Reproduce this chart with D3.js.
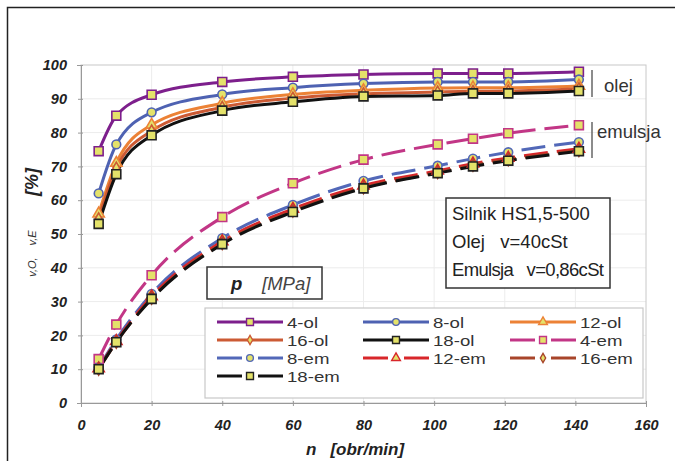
<!DOCTYPE html>
<html><head><meta charset="utf-8">
<script src="https://cdn.jsdelivr.net/npm/d3@7"></script>
<style>body{margin:0;background:#fff}svg{display:block;font-family:"Liberation Sans",Arial,sans-serif}</style>
</head><body><svg id="c" width="675" height="461"></svg>
<script>
const rpm = [5,10,20,40,60,80,101,111,121,141];
const seriesNames = ["4-ol","8-ol","12-ol","16-ol","18-ol","4-em","8-em","12-em","16-em","18-em"];
const ol4  = [74.5,85,91.2,95,96.5,97.2,97.5,97.5,97.5,98];
const ol8  = [62,76.5,86,91.3,93.3,94.5,95,95,95,95.7];
const ol12 = [56,71,82.3,88.7,91.3,92.5,93.2,93.3,93.3,93.8];
const ol16 = [54.5,69.5,80.5,87.5,90.2,91.5,92,92.2,92.3,93];
const ol18 = [53,67.7,79.2,86.5,89.1,90.7,91,91.6,91.6,92.3];
const em4  = [13,23.2,37.8,55,65,72,76.5,78.2,79.8,82.2];
const em8  = [10.5,18.8,32.3,48.8,58.6,65.7,70.2,72.3,74.2,77.2];
const em12 = [10.2,18.3,31.5,47.8,57.4,64.3,68.7,70.8,72.5,75.2];
const em16 = [10,18,31,47.2,56.8,63.7,68.2,70.3,72,74.7];
const em18 = [10,18,30.8,47,56.5,63.5,68,70,71.7,74.5];
const xTicks = [0,20,40,60,80,100,120,140,160];
const yTicks = [0,10,20,30,40,50,60,70,80,90,100];

const values = [ol4,ol8,ol12,ol16,ol18,em4,em8,em12,em16,em18];
const colors = ["#7d1f8c","#4e62b2","#ec8236","#cc5a34","#111111","#c23686","#5268b8","#d8262a","#a8452a","#111111"];
const shapes = [d3.symbolSquare,d3.symbolCircle,d3.symbolTriangle,d3.symbolDiamond,d3.symbolSquare];
const markerSize = [80,60,55,40,80];
const mfill = "#e4e26a";

const svg = d3.select("#c");
const x = d3.scaleLinear().domain([0,160]).range([81,646]);
const y = d3.scaleLinear().domain([0,100]).range([403,65]);

svg.append("path").attr("d","M7.5,461 V7.5 H675").attr("fill","none").attr("stroke","#222").attr("stroke-width",1.5);

const g = svg.append("g");
g.selectAll(".gx").data(xTicks.slice(1,-1)).join("line").attr("x1",d=>x(d)).attr("x2",d=>x(d)).attr("y1",y(0)).attr("y2",y(100)).attr("stroke","#ececec");
g.selectAll(".gy").data(yTicks.slice(1,-1)).join("line").attr("y1",d=>y(d)).attr("y2",d=>y(d)).attr("x1",x(0)).attr("x2",x(160)).attr("stroke","#ececec");
g.append("rect").attr("x",x(0)).attr("y",y(100)).attr("width",x(160)-x(0)).attr("height",y(0)-y(100)).attr("fill","none").attr("stroke","#c8c8c8");

const xa = svg.append("g").attr("transform",`translate(0,${y(0)})`).call(d3.axisBottom(x).tickValues(xTicks).tickSize(4).tickPadding(13));
xa.select(".domain").attr("stroke","#999");
xa.selectAll(".tick line").attr("stroke","#999").attr("y1",-2).attr("y2",3);
xa.selectAll("text").attr("font-size",14.5).attr("font-weight","bold").attr("font-style","italic").attr("fill","#222").attr("font-family","Liberation Sans, Arial");
const ya = svg.append("g").attr("transform",`translate(${x(0)},0)`).call(d3.axisLeft(y).tickValues(yTicks).tickSize(4).tickPadding(10));
ya.select(".domain").attr("stroke","#999");
ya.selectAll(".tick line").attr("stroke","#999").attr("x1",2).attr("x2",-3);
ya.selectAll("text").attr("font-size",14.5).attr("font-weight","bold").attr("font-style","italic").attr("fill","#222").attr("font-family","Liberation Sans, Arial");

const xt = svg.append("text").attr("x",306).attr("y",455).attr("font-size",17).attr("font-weight","bold").attr("font-style","italic").attr("fill","#222");
xt.append("tspan").text("n");
xt.append("tspan").attr("dx",14).text("[obr/min]");
const yt = svg.append("g").attr("transform","translate(36,225) rotate(-90)");
yt.append("text").attr("x",-42).attr("y",0).attr("text-anchor","middle").attr("font-size",11).attr("font-style","italic").attr("fill","#333").text("v,O,");
yt.append("text").attr("x",-13).attr("y",0).attr("text-anchor","middle").attr("font-size",11).attr("font-style","italic").attr("fill","#333").text("v,E");
yt.append("text").attr("x",43).attr("y",2).attr("text-anchor","middle").attr("font-size",18).attr("font-weight","bold").attr("font-style","italic").attr("fill","#222").text("[%]");

const line = d3.line().x((d,i)=>x(rpm[i])).y(d=>y(d)).curve(d3.curveMonotoneX);
const plot = svg.append("g");
const order = [5,6,7,8,9,0,1,2,3,4];
order.forEach(k=>{
  plot.append("path").datum(values[k]).attr("d",line).attr("fill","none").attr("stroke",colors[k]).attr("stroke-width",3)
    .attr("stroke-dasharray",k>=5?"24,9":null).attr("stroke-linecap","butt");
});
order.forEach(k=>{
  const s = k%5;
  plot.selectAll(null).data(values[k]).join("path")
    .attr("transform",(d,i)=>`translate(${x(rpm[i])},${y(d)})`)
    .attr("d",d3.symbol().type(shapes[s]).size(markerSize[s]))
    .attr("fill",mfill).attr("stroke",s===4?"#222":colors[k]).attr("stroke-width",1.6);
});

svg.append("line").attr("x1",592).attr("x2",592).attr("y1",70).attr("y2",97).attr("stroke","#666").attr("stroke-width",1.5);
svg.append("text").attr("x",604).attr("y",92).attr("font-size",18.5).attr("fill","#333").text("olej");
svg.append("line").attr("x1",592).attr("x2",592).attr("y1",122).attr("y2",158).attr("stroke","#666").attr("stroke-width",1.5);
svg.append("text").attr("x",597).attr("y",138).attr("font-size",18.5).attr("fill","#333").text("emulsja");

svg.append("rect").attr("x",446).attr("y",198).attr("width",164).attr("height",90).attr("fill","#fff").attr("stroke","#333").attr("stroke-width",1.5);
[["Silnik HS1,5-500",220],["Olej   v=40cSt",248],["Emulsja   v=0,86cSt",276]].forEach(([t,yy])=>{
  svg.append("text").attr("x",452).attr("y",yy).attr("font-size",18.5).attr("textLength",t.length>17?152:null).attr("fill","#222").style("white-space","pre").text(t);
});

svg.append("rect").attr("x",207).attr("y",267).attr("width",115).attr("height",32).attr("fill","#fff").attr("stroke","#333").attr("stroke-width",1.5);
const pt = svg.append("text").attr("x",231).attr("y",290).attr("font-size",18.5).attr("fill","#222");
pt.append("tspan").attr("font-weight","bold").attr("font-style","italic").text("p");
pt.append("tspan").attr("x",262).attr("font-style","italic").attr("fill","#444").text("[MPa]");

svg.append("rect").attr("x",205).attr("y",308).attr("width",438).attr("height",90).attr("fill","#fff").attr("stroke","#c8c8c8").attr("stroke-width",1.2);
const colX = [217,363,510];
const rowY = [322,340,358,376];
seriesNames.forEach((name,k)=>{
  const c = k%3, r = Math.floor(k/3), s = k%5;
  const lx = colX[c], ly = rowY[r];
  const lg = svg.append("g");
  if(k<5){
    lg.append("line").attr("x1",lx).attr("x2",lx+66).attr("y1",ly).attr("y2",ly).attr("stroke",colors[k]).attr("stroke-width",3);
  } else {
    lg.append("line").attr("x1",lx).attr("x2",lx+25).attr("y1",ly).attr("y2",ly).attr("stroke",colors[k]).attr("stroke-width",3);
    lg.append("line").attr("x1",lx+41).attr("x2",lx+66).attr("y1",ly).attr("y2",ly).attr("stroke",colors[k]).attr("stroke-width",3);
  }
  lg.append("path").attr("transform",`translate(${lx+33},${ly})`).attr("d",d3.symbol().type(shapes[s]).size(markerSize[s]*0.6))
    .attr("fill",mfill).attr("stroke",s===4?"#222":colors[k]).attr("stroke-width",1.4);
  const t = lg.append("text").attr("x",lx+70).attr("y",ly+6).attr("font-size",15.5).attr("fill","#333").text(name);
  const w = t.node().getComputedTextLength();
  t.attr("textLength",w*1.2).attr("lengthAdjust","spacingAndGlyphs");
});
</script></body></html>
